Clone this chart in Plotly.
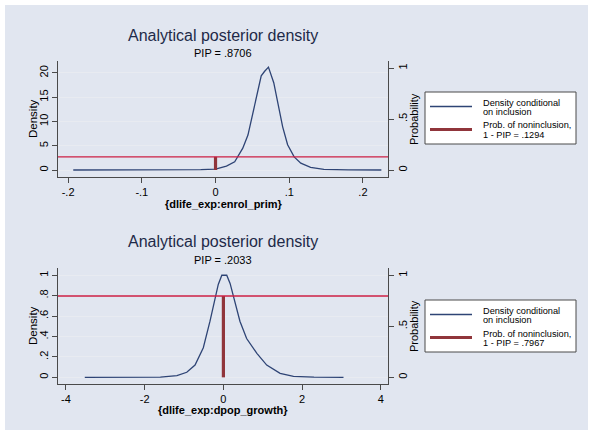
import plotly.graph_objects as go

W, H = 594, 435

# ---------------- data ----------------
title_text = "Analytical posterior density"

# top panel
top_pip_label = "PIP = .8706"
top_xlabel = "{dlife_exp:enrol_prim}"
top_nonincl = 0.1294
top_x = [-0.193, -0.15, -0.10, -0.05, -0.02, 0.0, 0.0148, 0.026, 0.037, 0.044, 0.0507,
         0.0565, 0.062, 0.0664, 0.0718, 0.079, 0.0844, 0.0911, 0.0978, 0.1067, 0.1157,
         0.129, 0.147, 0.18, 0.225]
top_y = [0.0, 0.0, 0.0, 0.01, 0.06, 0.2, 0.8, 1.7, 4.5, 7.2, 11.7,
         15.8, 19.4, 20.3, 21.2, 18.0, 13.7, 8.9, 5.2, 2.7, 1.4,
         0.55, 0.15, 0.02, 0.0]
top_xticks = [-0.2, -0.1, 0.0, 0.1, 0.2]
top_xticklabels = ["-.2", "-.1", "0", ".1", ".2"]
top_yticks = [0, 5, 10, 15, 20]
top_yticklabels = ["0", "5", "10", "15", "20"]

# bottom panel
bot_pip_label = "PIP = .2033"
bot_xlabel = "{dlife_exp:dpop_growth}"
bot_nonincl = 0.7967
bot_x = [-3.52, -2.5, -2.0, -1.6, -1.18, -0.93, -0.72, -0.51, -0.34, -0.21, -0.13, -0.04,
         0.085, 0.17, 0.30, 0.42, 0.59, 0.85, 1.10, 1.44, 1.78, 2.3, 3.05]
bot_y = [0.0, 0.0, 0.0, 0.003, 0.017, 0.05, 0.12, 0.29, 0.55, 0.78, 0.91, 1.0,
         1.0, 0.92, 0.74, 0.55, 0.38, 0.235, 0.12, 0.04, 0.01, 0.002, 0.0]
bot_xticks = [-4, -2, 0, 2, 4]
bot_xticklabels = ["-4", "-2", "0", "2", "4"]
bot_yticks = [0, 0.2, 0.4, 0.6, 0.8, 1.0]
bot_yticklabels = ["0", ".2", ".4", ".6", ".8", "1"]

prob_ticks = [0, 0.5, 1]
prob_ticklabels = ["0", ".5", "1"]

legend_density_lines = ["Density conditional", "on inclusion"]
legend_top_prob_lines = ["Prob. of noninclusion,", "1 - PIP = .1294"]
legend_bot_prob_lines = ["Prob. of noninclusion,", "1 - PIP = .7967"]

# ---------------- style ----------------
FONT = "Liberation Sans, Arial, sans-serif"
BG = "#E1E6F0"
NAVY = "#2E4475"
MAROON = "#90353B"
RED = "#CC1F45"
AXC = "#4A4A4A"
GRID = "#E8EBF1"

px_l, px_r = 58, 388
panels = [
    dict(top=61, bot=177, xr=[-0.2137, 0.234], yr=[-1.44, 22.47], y2r=[-0.0686, 1.0686],
         x=top_x, y=top_y, xt=top_xticks, xtl=top_xticklabels, yt=top_yticks,
         ytl=top_yticklabels, pip=top_pip_label, xl=top_xlabel, non=top_nonincl,
         lp=legend_top_prob_lines, legtop=92, tit=35, sub=53, xly=204),
    dict(top=268, bot=384, xr=[-4.2, 4.18], yr=[-0.065, 1.071], y2r=[-0.065, 1.071],
         x=bot_x, y=bot_y, xt=bot_xticks, xtl=bot_xticklabels, yt=bot_yticks,
         ytl=bot_yticklabels, pip=bot_pip_label, xl=bot_xlabel, non=bot_nonincl,
         lp=legend_bot_prob_lines, legtop=300, tit=242, sub=260, xly=410),
]

fig = go.Figure()
layout = dict(
    width=W, height=H, margin=dict(l=0, r=0, t=0, b=0, pad=0),
    paper_bgcolor="white", plot_bgcolor="white", showlegend=False,
    font=dict(family=FONT, size=11, color="black"),
    shapes=[dict(type="rect", xref="paper", yref="paper", x0=5 / W, x1=588 / W,
                 y0=1 - 430 / H, y1=1 - 5 / H, fillcolor=BG, line=dict(width=0),
                 layer="below")],
    annotations=[],
)


def py(v):
    return 1 - v / H


def pxx(v):
    return v / W


for i, p in enumerate(panels):
    n = i + 1
    xa = "x" if n == 1 else f"x{2*n-1}"
    ya = "y" if n == 1 else f"y{2*n-1}"
    ya2 = f"y{2*n}"
    xkey = "xaxis" if n == 1 else f"xaxis{2*n-1}"
    ykey = "yaxis" if n == 1 else f"yaxis{2*n-1}"
    y2key = f"yaxis{2*n}"
    dom_x = [px_l / W, px_r / W]
    dom_y = [py(p["bot"]), py(p["top"])]

    layout[xkey] = dict(domain=dom_x, range=p["xr"], anchor=ya, tickvals=p["xt"],
                        ticktext=p["xtl"], showgrid=False, zeroline=False, showline=True,
                        linecolor=AXC, linewidth=1, ticks="outside", ticklen=5,
                        tickcolor=AXC, tickfont=dict(size=11))
    layout[ykey] = dict(domain=dom_y, range=p["yr"], anchor=xa, tickvals=p["yt"],
                        ticktext=p["ytl"], showgrid=True, gridcolor=GRID, gridwidth=1,
                        zeroline=False, showline=True, linecolor=AXC, linewidth=1,
                        ticks="outside", ticklen=5, tickcolor=AXC, tickangle=-90,
                        tickfont=dict(size=11))
    layout[y2key] = dict(domain=dom_y, range=p["y2r"], anchor=xa, overlaying=ya,
                         side="right", tickvals=prob_ticks, ticktext=prob_ticklabels,
                         showgrid=False, zeroline=False, showline=True, linecolor=AXC,
                         linewidth=1, ticks="outside", ticklen=5, tickcolor=AXC,
                         tickangle=-90, tickfont=dict(size=11))

    fig.add_trace(go.Scatter(x=p["x"], y=p["y"], mode="lines", xaxis=xa, yaxis=ya,
                             line=dict(color=NAVY, width=1.3),
                             name=" ".join(legend_density_lines)))
    fig.add_trace(go.Scatter(x=[0, 0], y=[0, p["non"]], mode="lines", xaxis=xa,
                             yaxis=ya2, line=dict(color=MAROON, width=3.2),
                             name=" ".join(p["lp"])))
    layout["shapes"].append(dict(type="line", xref=f"{xa} domain", yref=ya2, x0=0, x1=1,
                                 y0=p["non"], y1=p["non"],
                                 line=dict(color=RED, width=1.3)))

    # custom legend box (Stata style, tight line spacing)
    lt = p["legtop"]
    layout["shapes"] += [
        dict(type="rect", xref="paper", yref="paper", x0=pxx(425), x1=pxx(576),
             y0=py(lt + 52), y1=py(lt), fillcolor="white",
             line=dict(color="#4A4A4A", width=1)),
        dict(type="line", xref="paper", yref="paper", x0=pxx(430), x1=pxx(472),
             y0=py(lt + 14.5), y1=py(lt + 14.5), line=dict(color=NAVY, width=1.3)),
        dict(type="line", xref="paper", yref="paper", x0=pxx(430), x1=pxx(472),
             y0=py(lt + 37.5), y1=py(lt + 37.5), line=dict(color=MAROON, width=3.2)),
    ]
    text_rows = [(legend_density_lines[0], 10.5), (legend_density_lines[1], 19.5),
                 (p["lp"][0], 33.5), (p["lp"][1], 42.5)]
    for txt, off in text_rows:
        layout["annotations"].append(
            dict(text=txt, x=pxx(481), y=py(lt + off), xref="paper", yref="paper",
                 showarrow=False, xanchor="left", yanchor="middle",
                 font=dict(size=9.2, color="black")))

    cx = (px_l + px_r) / 2 / W
    mid_y = py((p["top"] + p["bot"]) / 2)
    layout["annotations"] += [
        dict(text=title_text, x=cx, y=py(p["tit"]), xref="paper", yref="paper",
             showarrow=False, font=dict(size=16, color="#1E2A48"), xanchor="center",
             yanchor="middle"),
        dict(text=p["pip"], x=cx, y=py(p["sub"]), xref="paper", yref="paper",
             showarrow=False, font=dict(size=11), xanchor="center", yanchor="middle"),
        dict(text="<b>" + p["xl"] + "</b>", x=cx, y=py(p["xly"]), xref="paper",
             yref="paper", showarrow=False, font=dict(size=11), xanchor="center",
             yanchor="middle"),
        dict(text="Density", x=pxx(33), y=mid_y, xref="paper", yref="paper",
             showarrow=False, textangle=-90, font=dict(size=11.5), xanchor="center",
             yanchor="middle"),
        dict(text="Probability", x=pxx(414), y=mid_y, xref="paper", yref="paper",
             showarrow=False, textangle=-90, font=dict(size=11), xanchor="center",
             yanchor="middle"),
    ]

fig.update_layout(**layout)
fig.write_html("out.html", config={"displayModeBar": False},
               post_script="document.body.style.margin='0';document.body.style.padding='0';")
